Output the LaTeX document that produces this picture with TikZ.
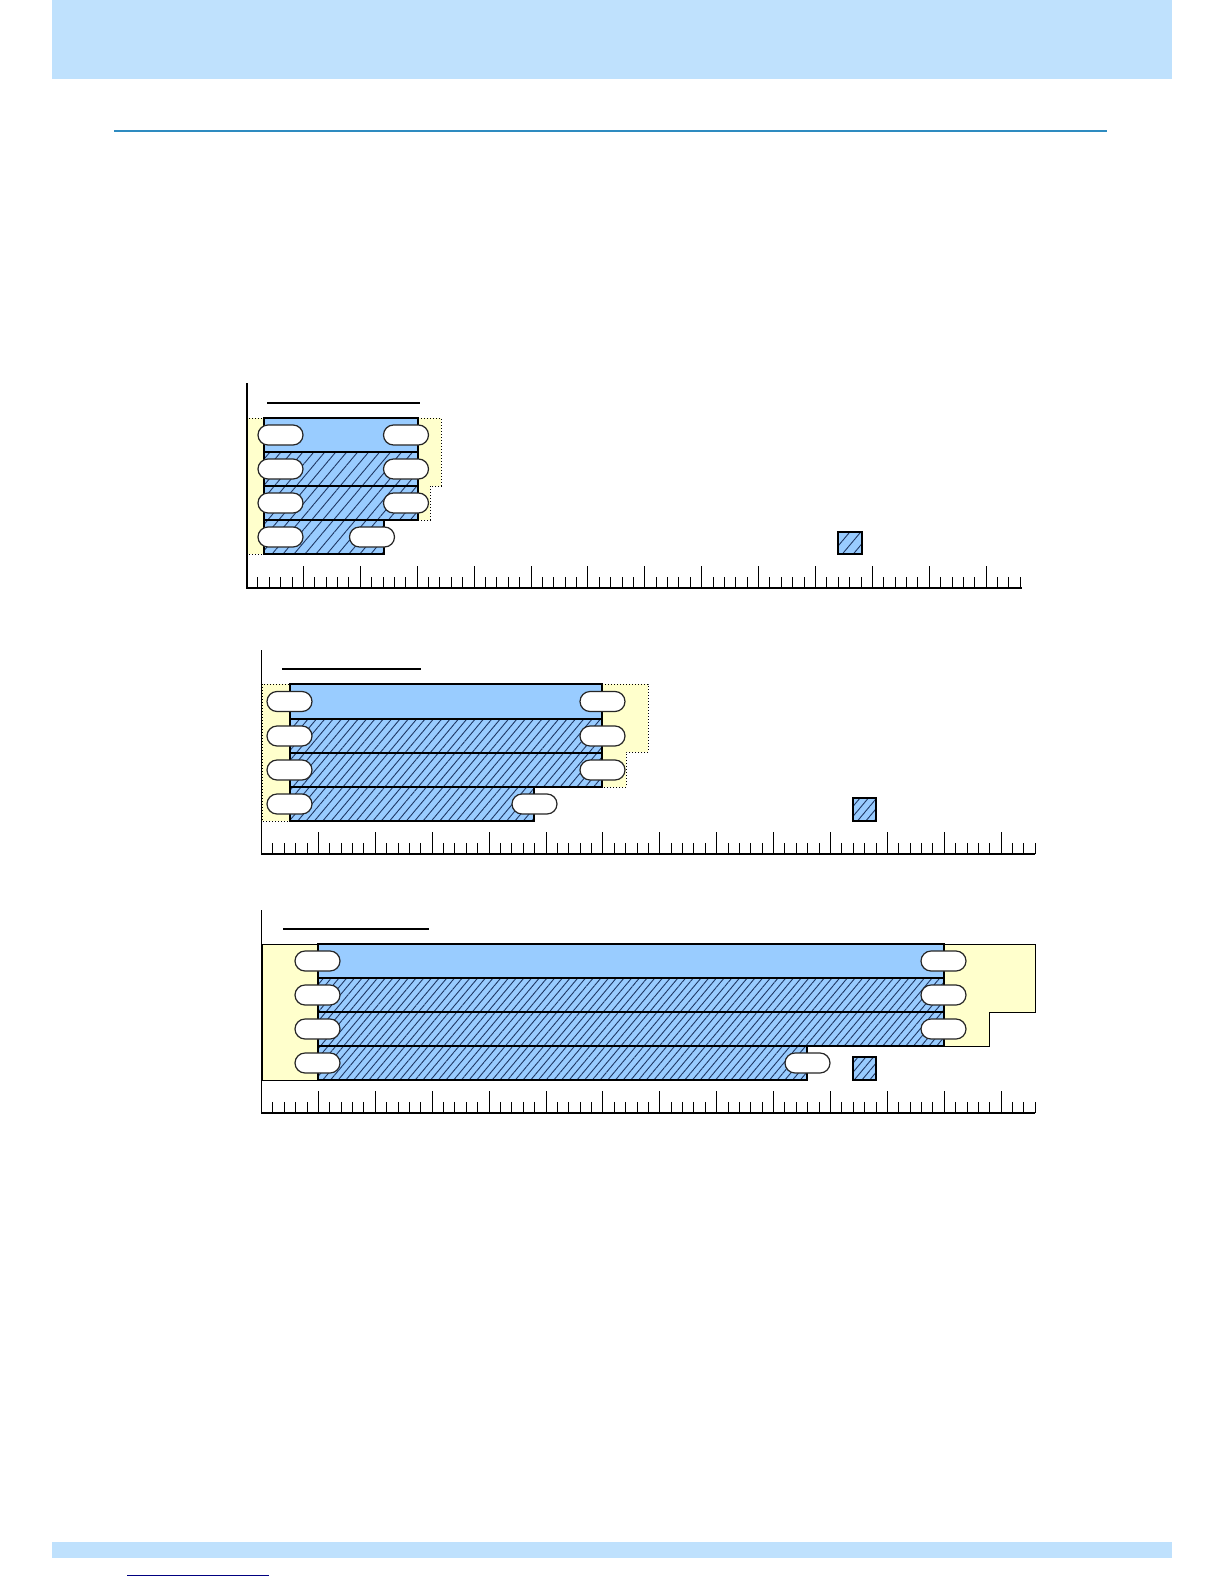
\documentclass[tikz,border=0pt]{standalone}
\usepackage{tikz}
\usetikzlibrary{patterns.meta}
\definecolor{bandblue}{HTML}{BFE1FD}
\definecolor{ruleblue}{HTML}{2E8BC0}
\definecolor{cardblue}{HTML}{99CCFF}
\definecolor{hatchblue}{HTML}{1F3864}
\definecolor{padyellow}{HTML}{FFFFCC}
\definecolor{linknavy}{HTML}{000080}

\begin{document}
\begin{tikzpicture}[x=0.5pt, y=-0.5pt,
    card/.style={fill=cardblue, draw=black, line width=1pt},
    hatched/.style={fill=cardblue,
        postaction={pattern={Lines[angle=50, distance=#1, line width=0.45pt]}, pattern color=hatchblue},
        postaction={draw=black, line width=1pt}},
    oval/.style={draw=black!85, fill=white, line width=0.6pt, rounded corners=5pt,
        minimum width=22.5pt, minimum height=10pt, inner sep=0pt},
    pad/.style={fill=padyellow, draw=black, densely dotted, line width=0.5pt},
    solidpad/.style={fill=padyellow, draw=black, line width=0.5pt},
    tick/.style={line width=0.5pt}]
    \useasboundingbox (0,0) rectangle (1224,1584);
    % cabecera y pie
    \fill[bandblue] (52,0) rectangle (1172,79);
    \draw[ruleblue, line width=0.7pt] (114,131) -- (1107,131);
    \fill[bandblue] (52,1542) rectangle (1172,1558);
    \draw[linknavy, line width=0.5pt] (127,1575) -- (269,1575);

    % primer dibujo
    \draw[line width=1pt] (267,403) -- (420,403);
    \draw[pad] (247,418) rectangle (264,554);
    \draw[pad] (418,418) -- (441,418) -- (441,486) -- (430,486) -- (430,520) -- (418,520) -- cycle;
    \draw[card] (264,418) rectangle (418,452);
    \draw[hatched=4.2pt] (264,452) rectangle (418,486);
    \draw[hatched=4.2pt] (264,486) rectangle (418,520);
    \draw[hatched=4.2pt] (264,520) rectangle (384,554);
    \foreach \y [count=\k] in {435,469,503,537}
        \node[oval] (al\k) at (280.5,\y) {};
    \foreach \y [count=\k] in {435,469,503}
        \node[oval] (ar\k) at (406,\y) {};
    \node[oval] (ar4) at (372,537) {};
    \draw[hatched=4.2pt] (838,532) rectangle (862,554);
    \draw[line width=0.6pt] (247,383) -- (247,588) -- (1022,588);
    \foreach \i in {1,...,68} {
        \pgfmathsetmacro\tl{mod(\i,5)==0 ? 22 : 11}
        \draw[tick] (246.5+\i*11.38,588) -- ++(0,-\tl);
    }

    % segundo dibujo
    \draw[line width=0.6pt] (282,669) -- (421,669);
    \draw[pad] (262,684) rectangle (290,821);
    \draw[pad] (602,684) -- (648,684) -- (648,752) -- (626,752) -- (626,787) -- (602,787) -- cycle;
    \draw[card] (290,684) rectangle (602,718.5);
    \draw[hatched=3.2pt] (290,718.5) rectangle (602,753);
    \draw[hatched=3.2pt] (290,753) rectangle (602,787);
    \draw[hatched=3.2pt] (290,787) rectangle (534,821);
    \foreach \y [count=\k] in {701.5,736,770,804}
        \node[oval] (bl\k) at (289.5,\y) {};
    \foreach \y [count=\k] in {701.5,736,770}
        \node[oval] (br\k) at (602.5,\y) {};
    \node[oval] (br4) at (534.5,804) {};
    \draw[hatched=3.2pt] (853,798) rectangle (876,821);
    \draw[line width=0.6pt] (261.5,650) -- (261.5,854) -- (1035,854);
    \foreach \i in {1,...,68} {
        \pgfmathsetmacro\tl{mod(\i,5)==0 ? 22 : 11}
        \draw[tick] (261.5+\i*11.38,854) -- ++(0,-\tl);
    }

    % tercer dibujo
    \draw[line width=0.6pt] (283,929) -- (429,929);
    \draw[solidpad] (262,944) rectangle (318,1080);
    \draw[solidpad] (944,944) -- (1035,944) -- (1035,1012) -- (989,1012) -- (989,1046) -- (944,1046) -- cycle;
    \draw[card] (318,944) rectangle (944,978);
    \draw[hatched=2.95pt] (318,978) rectangle (944,1012);
    \draw[hatched=2.95pt] (318,1012) rectangle (944,1046);
    \draw[hatched=2.95pt] (318,1046) rectangle (807,1080);
    \foreach \y [count=\k] in {961,995,1029,1063}
        \node[oval] (cl\k) at (317.5,\y) {};
    \foreach \y [count=\k] in {961,995,1029}
        \node[oval] (cr\k) at (943.5,\y) {};
    \node[oval] (cr4) at (807.5,1063) {};
    \draw[hatched=2.95pt] (853,1057) rectangle (876,1080);
    \draw[line width=0.6pt] (261.5,910) -- (261.5,1113) -- (1035,1113);
    \foreach \i in {1,...,68} {
        \pgfmathsetmacro\tl{mod(\i,5)==0 ? 22 : 11}
        \draw[tick] (261.5+\i*11.38,1113) -- ++(0,-\tl);
    }
\end{tikzpicture}
\end{document}
